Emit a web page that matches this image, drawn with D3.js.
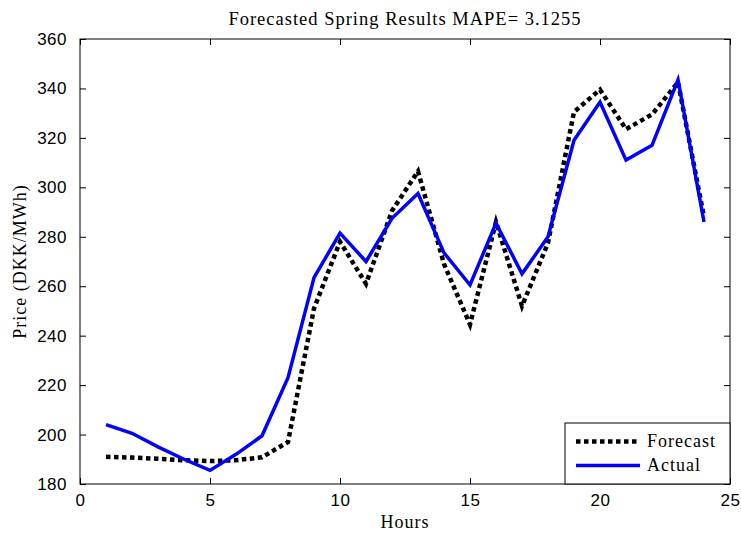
<!DOCTYPE html>
<html>
<head>
<meta charset="utf-8">
<script src="https://cdn.jsdelivr.net/npm/d3@7"></script>
<style>
  body { margin: 0; background: #fff; }
  svg { display: block; }
</style>
</head>
<body>
<script>
var hours = d3.range(1, 25);
var forecast = [191, 190.7, 190.2, 189.6, 189.3, 189.6, 190.8, 197, 251, 278, 261, 290.5,
                306.5, 269, 244.5, 286, 252, 277.5, 330.5, 339.5, 323.5, 329.5, 342.5, 288];
var actual = [204, 200.5, 195, 190, 185.5, 192, 199.5, 223, 263.5, 281.5, 270, 287.5,
              297.5, 273.5, 260.5, 285.5, 265, 280, 319, 334.5, 311, 317, 343.5, 286];
var xTicks = [0, 5, 10, 15, 20, 25];
var yTicks = [180, 200, 220, 240, 260, 280, 300, 320, 340, 360];
var seriesNames = ["Forecast", "Actual"];

function init(){
    var w = 741;
    var h = 533;
    var left = 80, right = 730, top = 39, bottom = 484;
    var tickLen = 6;
    var serif = "'Liberation Serif', 'Times New Roman', serif";
    var sans = "'Liberation Sans', Arial, sans-serif";

    var xScale = d3.scaleLinear().domain([0, 25]).range([left, right]);
    var yScale = d3.scaleLinear().domain([180, 360]).range([bottom, top]);

    var svg = d3.select("body")
                .append("svg")
                .attr("width", w)
                .attr("height", h);

    // frame
    svg.append("rect")
       .attr("x", left).attr("y", top)
       .attr("width", right - left).attr("height", bottom - top)
       .attr("fill", "none").attr("stroke", "#000").attr("stroke-width", 1);

    // axes with inward ticks
    var xAxisB = d3.axisBottom(xScale).tickValues(xTicks).tickSize(-tickLen).tickPadding(10);
    var xAxisT = d3.axisTop(xScale).tickValues(xTicks).tickSize(-tickLen).tickFormat("");
    var yAxisL = d3.axisLeft(yScale).tickValues(yTicks).tickSize(-tickLen).tickPadding(13);
    var yAxisR = d3.axisRight(yScale).tickValues(yTicks).tickSize(-tickLen).tickFormat("");

    function style(g){
        g.select(".domain").remove();
        g.selectAll(".tick line").attr("stroke", "#000");
        g.selectAll(".tick text")
         .attr("fill", "#000")
         .style("font-family", sans)
         .style("font-size", "17px")
         .style("letter-spacing", "0.5px");
    }
    svg.append("g").attr("transform", "translate(0," + bottom + ")").call(xAxisB).call(style);
    svg.append("g").attr("transform", "translate(0," + top + ")").call(xAxisT).call(style);
    svg.append("g").attr("transform", "translate(" + left + ",0)").call(yAxisL).call(style);
    svg.append("g").attr("transform", "translate(" + right + ",0)").call(yAxisR).call(style);

    var line = d3.line()
                 .x(function(d, i) { return xScale(hours[i]); })
                 .y(function(d) { return yScale(d); });

    svg.append("path")
       .datum(forecast)
       .attr("d", line)
       .attr("fill", "none")
       .attr("stroke", "#000")
       .attr("stroke-width", 4.5)
       .attr("stroke-dasharray", "4.5,3.5");

    svg.append("path")
       .datum(actual)
       .attr("d", line)
       .attr("fill", "none")
       .attr("stroke", "#0000ff")
       .attr("stroke-width", 3.5);

    // title and labels
    svg.append("text")
       .attr("x", (left + right) / 2).attr("y", 25)
       .attr("text-anchor", "middle")
       .style("font-family", serif).style("font-size", "18.5px").style("letter-spacing", "1px")
       .text("Forecasted Spring Results MAPE= 3.1255");

    svg.append("text")
       .attr("x", (left + right) / 2).attr("y", 528)
       .attr("text-anchor", "middle")
       .style("font-family", serif).style("font-size", "18px").style("letter-spacing", "1px")
       .text("Hours");

    svg.append("text")
       .attr("transform", "translate(26," + ((top + bottom) / 2) + ") rotate(-90)")
       .attr("text-anchor", "middle")
       .style("font-family", serif).style("font-size", "18px").style("letter-spacing", "1px")
       .text("Price (DKK/MWh)");

    // legend
    var lg = svg.append("g");
    lg.append("rect")
      .attr("x", 565).attr("y", 423)
      .attr("width", right - 565).attr("height", bottom - 423)
      .attr("fill", "#fff").attr("stroke", "#000").attr("stroke-width", 1);

    var items = lg.selectAll("g.item")
                  .data(seriesNames)
                  .enter()
                  .append("g")
                  .attr("transform", function(d, i) { return "translate(0," + (441.5 + i * 24) + ")"; });

    items.append("line")
         .attr("x1", 576).attr("x2", 640)
         .attr("stroke", function(d, i) { return i === 0 ? "#000" : "#0000ff"; })
         .attr("stroke-width", function(d, i) { return i === 0 ? 4.5 : 3.5; })
         .attr("stroke-dasharray", function(d, i) { return i === 0 ? "4.5,3.5" : null; });

    items.append("text")
         .attr("x", 647).attr("y", 5.5)
         .style("font-family", serif).style("font-size", "18px").style("letter-spacing", "1px")
         .text(function(d) { return d; });
}
window.onload = init;
</script>
</body>
</html>
